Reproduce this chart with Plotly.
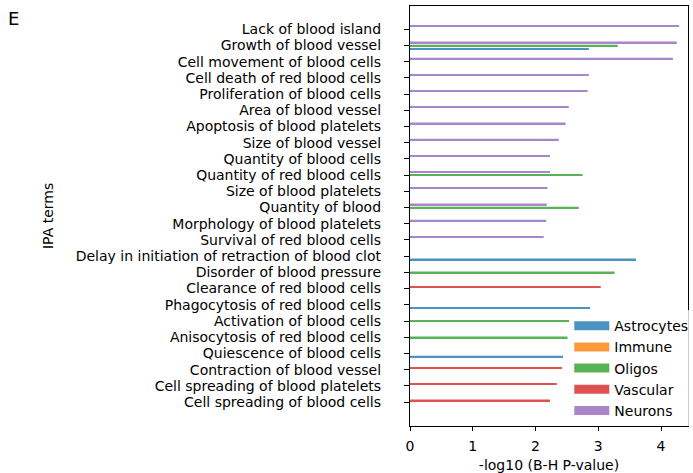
import plotly.graph_objects as go

# IPA terms, top to bottom as shown
terms = [
    "Lack of blood island",
    "Growth of blood vessel",
    "Cell movement of blood cells",
    "Cell death of red blood cells",
    "Proliferation of blood cells",
    "Area of blood vessel",
    "Apoptosis of blood platelets",
    "Size of blood vessel",
    "Quantity of blood cells",
    "Quantity of red blood cells",
    "Size of blood platelets",
    "Quantity of blood",
    "Morphology of blood platelets",
    "Survival of red blood cells",
    "Delay in initiation of retraction of blood clot",
    "Disorder of blood pressure",
    "Clearance of red blood cells",
    "Phagocytosis of red blood cells",
    "Activation of blood cells",
    "Anisocytosis of red blood cells",
    "Quiescence of blood cells",
    "Contraction of blood vessel",
    "Cell spreading of blood platelets",
    "Cell spreading of blood cells",
]

N = None
astrocytes = [N, 2.85, N, N, N, N, N, N, N, N, N, N, N, N, 3.60, N, N, 2.87, N, N, 2.44, N, N, N]
immune     = [N] * 24
oligos     = [N, 3.31, N, N, N, N, N, N, N, 2.75, N, 2.69, N, N, N, 3.26, N, N, 2.54, 2.51, N, N, N, N]
vascular   = [N, N, N, N, N, N, N, N, N, N, N, N, N, N, N, N, 3.04, N, N, N, N, 2.42, 2.34, 2.23]
neurons    = [4.29, 4.25, 4.19, 2.85, 2.83, 2.53, 2.48, 2.37, 2.23, 2.23, 2.19, 2.18, 2.17, 2.13,
              N, N, N, N, N, N, N, N, N, N]

series_names = ["Astrocytes", "Immune", "Oligos", "Vascular", "Neurons"]
series_values = [astrocytes, immune, oligos, vascular, neurons]
colors = ["#4c92c3", "#ff993e", "#56b356", "#de5253", "#a985ca"]

x_ticks = [0, 1, 2, 3, 4]

FONT = "DejaVu Sans"

fig = go.Figure()
for name, vals, col in zip(series_names, series_values, colors):
    fig.add_trace(go.Bar(
        y=terms, x=vals, orientation="h", name=name,
        marker=dict(color=col, line=dict(width=0)),
        showlegend=False, legendgroup=name,
    ))
# legend swatches
for name, col in zip(series_names, colors):
    fig.add_trace(go.Scatter(
        x=[None], y=[None], mode="lines", name=name,
        line=dict(color=col, width=9), legendgroup=name, showlegend=True,
    ))

fig.update_layout(
    width=693, height=473,
    margin=dict(l=410, r=5, t=6, b=47, autoexpand=False),
    paper_bgcolor="white", plot_bgcolor="white",
    barmode="group", bargap=0.5, bargroupgap=0,
    font=dict(family=FONT, size=14, color="black"),
    showlegend=True,
    legend=dict(
        x=0.573, y=0.276, xanchor="left", yanchor="top",
        bgcolor="rgba(255,255,255,0.8)", borderwidth=0,
        font=dict(size=14), traceorder="grouped", tracegroupgap=0,
        itemwidth=35,
    ),
    xaxis=dict(
        range=[0, 4.43], tickvals=x_ticks, ticktext=[str(t) for t in x_ticks],
        showline=True, linecolor="black", linewidth=1.3, mirror=True,
        ticks="outside", ticklen=4, tickwidth=1.2, tickcolor="black",
        ticklabelstandoff=3,
        showgrid=False, zeroline=False,
        title=dict(text="-log10 (B-H P-value)", standoff=9, font=dict(size=14)),
    ),
    yaxis=dict(
        type="category", categoryorder="array", categoryarray=terms[::-1],
        tickmode="array", tickvals=terms, ticktext=terms,
        range=[-1.48, 24.44],
        showline=True, linecolor="black", linewidth=1.3, mirror=True,
        ticks="outside", ticklen=5, tickwidth=1.2, tickcolor="black",
        ticklabelstandoff=20,
        showgrid=False, zeroline=False,
    ),
    annotations=[
        dict(text="E", xref="paper", yref="paper", x=-1.4245, y=0.970,
             xanchor="center", yanchor="middle", showarrow=False,
             font=dict(size=18, family=FONT)),
        dict(text="IPA terms", xref="paper", yref="paper", x=-1.302, y=0.5,
             xanchor="center", yanchor="middle", textangle=-90, showarrow=False,
             font=dict(size=14, family=FONT)),
    ],
)

fig.write_html("out.html")
